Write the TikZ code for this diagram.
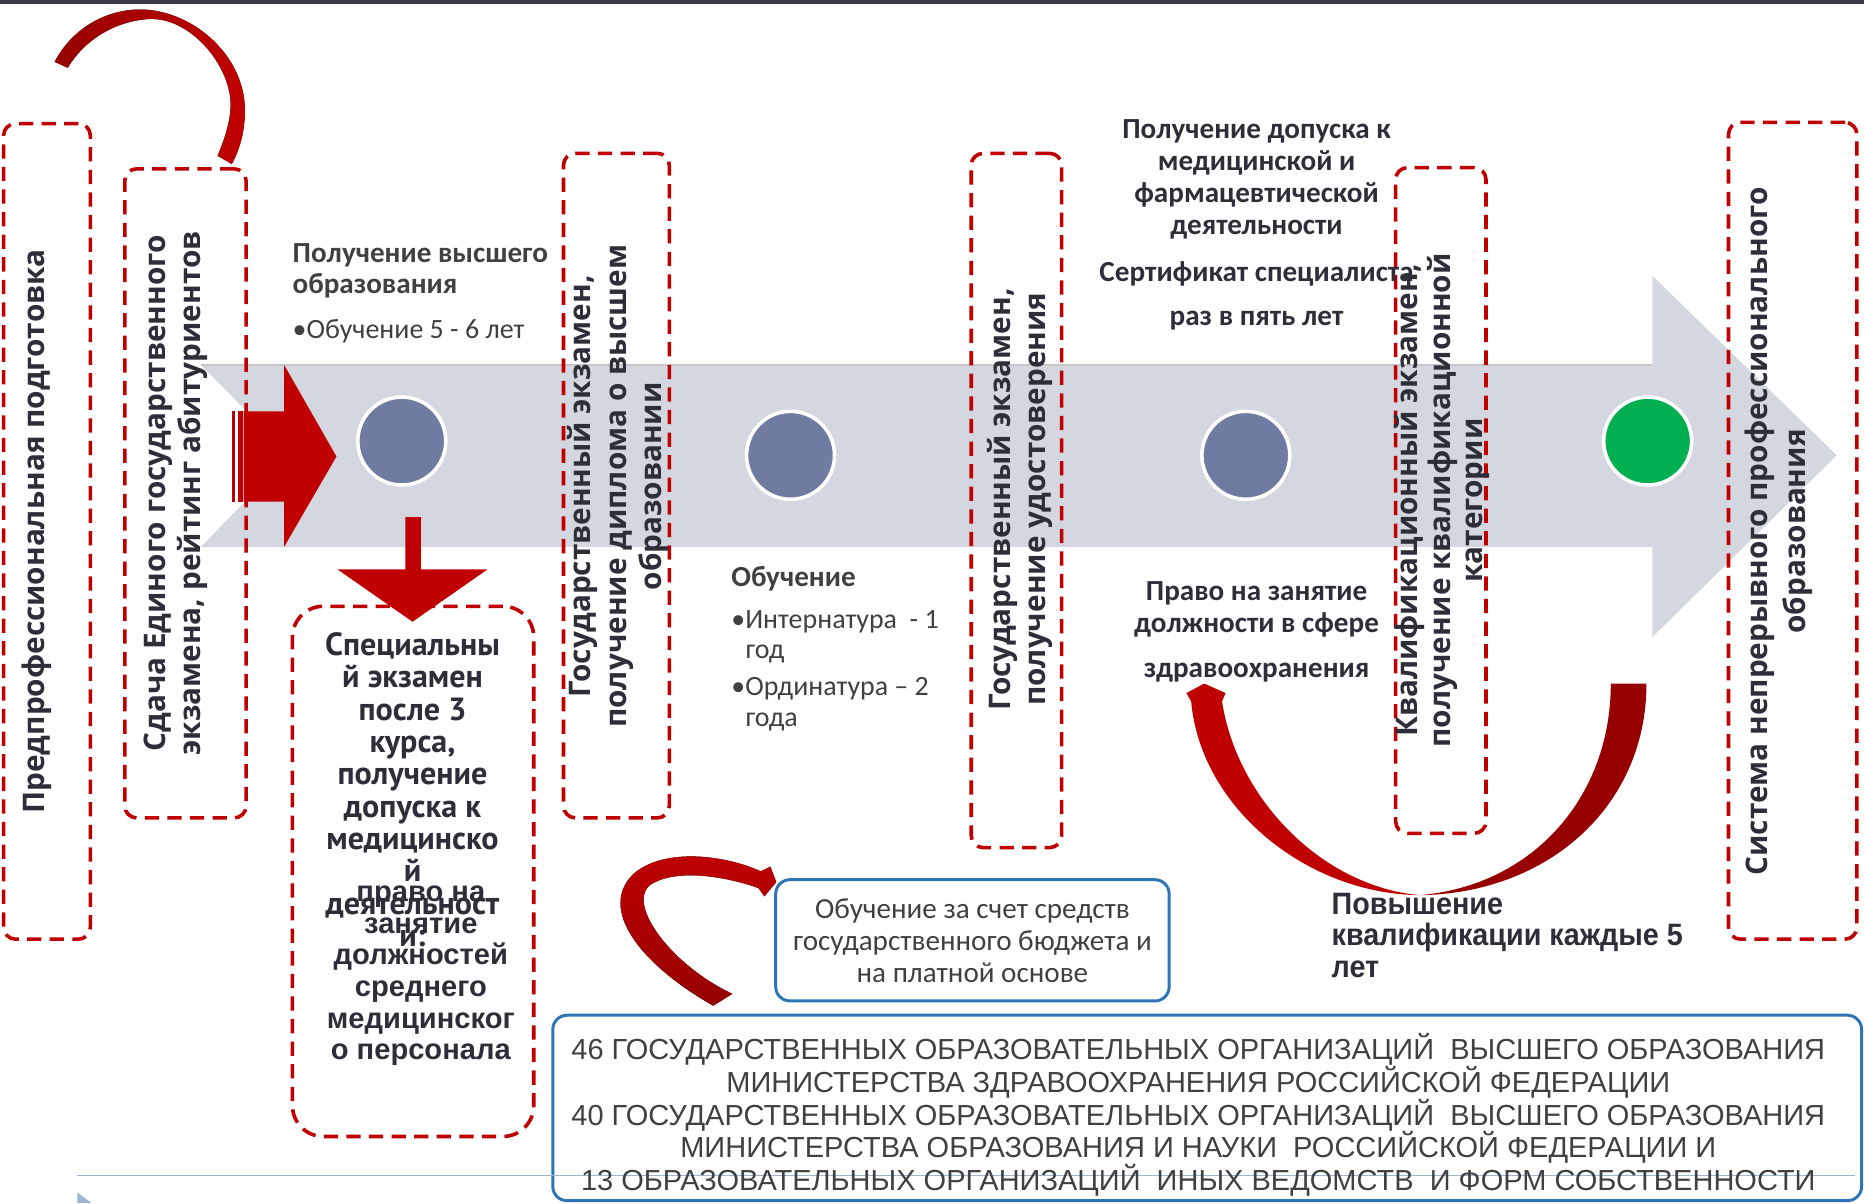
\documentclass[tikz,border=0pt]{standalone}
\usepackage{fontspec}
\setmainfont{Carlito}
\newfontfamily\gillfont{PT Sans}
\newfontfamily\vertfont{Open Sans}
\newfontfamily\arialfont{Liberation Sans}
\newfontfamily\narrowfont[FakeStretch=0.93]{Liberation Sans}
\usetikzlibrary{positioning}

\definecolor{boxred}{HTML}{C00000}
\definecolor{ribbondark}{HTML}{960000}
\definecolor{arrowgrey}{HTML}{D4D7E0}
\definecolor{dotblue}{HTML}{6F7BA1}
\definecolor{dotgreen}{HTML}{00B050}
\definecolor{frameblue}{HTML}{2E75B6}
\definecolor{inkgrey}{HTML}{2E2E38}
\definecolor{softgrey}{HTML}{404040}
\definecolor{topbar}{HTML}{3A3B45}
\definecolor{rulegrey}{HTML}{9DB6CD}

\begin{document}
\begin{tikzpicture}
    [x=1pt, y=-1pt,
    stagebox/.style ={draw=boxred, line width=3pt, dash pattern=on 12pt off 7pt,
        rounded corners=10pt, inner sep=0pt},
    vlabel/.style ={rotate=90, align=center, inner sep=0pt, text=inkgrey,
        font=\vertfont\bfseries\fontsize{25}{30}\selectfont},
    dot/.style ={circle, draw=white, line width=3pt, fill=dotblue,
        minimum size=74pt, inner sep=0pt},
    infobox/.style ={draw=frameblue, line width=2.5pt, rounded corners=12pt, inner sep=0pt},
    note/.style ={align=center, inner sep=0pt, text=inkgrey,
        font=\bfseries\fontsize{24.5}{27}\selectfont}
    ]
    \useasboundingbox (0,0) rectangle (1568,1012);
    \fill[topbar] (0,0) rectangle (1568,3.5);

    % timeline arrow
    \fill[arrowgrey] (169,307) -- (1390,307) -- (1390,232) -- (1545,383) -- (1390,536)
        -- (1390,460) -- (169,460) -- (244,383) -- cycle;
    \draw[black!22, line width=1pt] (169,307) -- (1390,307);

    \node[dot] (dota) at (338,371) {};
    \node[dot] (dotb) at (665,383) {};
    \node[dot] (dotc) at (1048,383) {};
    \node[dot, fill=dotgreen] (dotd) at (1386,371) {};

    % red arrows
    \fill[boxred] (195,346) rectangle (197.5,422);
    \fill[boxred] (200,346) rectangle (204,422);
    \fill[boxred] (205,346) -- (239,346) -- (239,307) -- (283,384) -- (239,460)
        -- (239,422) -- (205,422) -- cycle;
    \fill[boxred] (341,435) -- (354,435) -- (354,479) -- (410,479) -- (347,523)
        -- (284,479) -- (341,479) -- cycle;

    % stages
    \node[stagebox, minimum width=73pt, minimum height=686pt] (prep) at (39.5,447) {};
    \node[stagebox, minimum width=102pt, minimum height=546pt] (ege) at (156,415) {};
    \node[stagebox, minimum width=203pt, minimum height=446pt, rounded corners=26pt] (special) at (347.5,733) {};
    \node[stagebox, minimum width=89pt, minimum height=559pt] (diploma) at (518.5,408.5) {};
    \node[stagebox, minimum width=76pt, minimum height=584pt] (licence) at (855,421) {};
    \node[stagebox, minimum width=76pt, minimum height=560pt] (category) at (1212,421) {};
    \node[stagebox, minimum width=108pt, minimum height=687pt] (lifelong) at (1508,446.5) {};

    \node[vlabel] (preptext) at (31,447) {Предпрофессиональная подготовка};
    \node[vlabel] (egetext) at (148,415) {Сдача Единого государственного\\экзамена, рейтинг абитуриентов};
    \node[vlabel] (diplomatext) at (520,409) {Государственный экзамен,\\получение диплома о высшем\\образовании};
    \node[vlabel] (licencetext) at (858,420) {Государственный экзамен,\\получение удостоверения};
    \node[vlabel, font=\vertfont\bfseries\fontsize{25}{27.5}\selectfont] (categorytext) at (1213,421)
        {Квалификационный экзамен,\\получение квалификационной\\категории};
    \node[vlabel, font=\vertfont\bfseries\fontsize{25}{32}\selectfont] (lifelongtext) at (1496,447)
        {Система непрерывного профессионального\\образования};

    \node[anchor=north, align=center, inner sep=0pt, text=inkgrey,
        font=\gillfont\bfseries\fontsize{27}{27.2}\selectfont] (specialtext) at (347,532)
        {Специальны\\й экзамен\\после 3\\курса,\\получение\\допуска к\\медицинско\\й\\деятельност\\и:};
    \node[anchor=north, align=center, inner sep=0pt, text=inkgrey,
        font=\arialfont\bfseries\fontsize{24.5}{26.6}\selectfont] (nursetext) at (354,745)
        {право на\\занятие\\должностей\\среднего\\медицинског\\о персонала};

    % captions
    \node[anchor=north west, align=left, inner sep=0pt, text=softgrey,
        font=\bfseries\fontsize{24.5}{26}\selectfont] (higher) at (246,205) {Получение высшего\\образования};
    \node[anchor=west, inner sep=0pt, text=softgrey, font=\fontsize{23.5}{26}\selectfont]
        (fiveyears) at (246,279) {•Обучение 5 - 6 лет};
    \node[anchor=west, inner sep=0pt, text=softgrey, font=\bfseries\fontsize{24.5}{26}\selectfont]
        (training) at (615,487) {Обучение};
    \node[anchor=north west, align=left, inner sep=0pt, text=softgrey,
        font=\fontsize{23.5}{26}\selectfont] (trainlist) at (615,513)
        {•Интернатура~~- 1\\\hspace*{12pt}год\\[5pt]•Ординатура – 2\\\hspace*{12pt}года};
    \node[note, anchor=north] (admission) at (1057,100)
        {Получение допуска к\\медицинской и\\фармацевтической\\деятельности};
    \node[note, anchor=north, font=\bfseries\fontsize{24.5}{37}\selectfont] (certificate) at (1057,220)
        {Сертификат специалиста\\раз в пять лет};
    \node[note, anchor=north] (position) at (1057,489)
        {Право на занятие\\должности в сфере\\[11pt]здравоохранения};
    \node[anchor=north west, align=left, inner sep=0pt, text=inkgrey,
        font=\narrowfont\bfseries\fontsize{26}{26.5}\selectfont] (upgrade) at (1120,751)
        {Повышение\\квалификации каждые 5\\лет};

    % ribbons
    \fill[left color=ribbondark, right color=boxred]
        (46,52) .. controls (60,25) and (88,8) .. (118,8)
        .. controls (160,8) and (206,45) .. (206,93)
        .. controls (206,110) and (202,125) .. (195,138) -- (183,131)
        .. controls (190,115) and (194,100) .. (194,88)
        .. controls (194,55) and (160,14) .. (125,16)
        .. controls (95,18) and (70,35) .. (57,57) -- cycle;
    \fill[boxred] (1013,575) -- (1031,583) -- (1028,590)
        .. controls (1040,670) and (1110,745) .. (1194,753)
        .. controls (1100,752) and (1010,680) .. (1002,590) -- (998,583) -- cycle;
    \fill[ribbondark] (1194,753) .. controls (1300,752) and (1385,680) .. (1385,575)
        -- (1355,575) .. controls (1355,670) and (1290,745) .. (1194,753) -- cycle;
    \fill[top color=boxred, bottom color=ribbondark]
        (600,846) .. controls (540,812) and (502,765) .. (533,735)
        .. controls (560,712) and (612,720) .. (640,733) -- (648,729) -- (653,742)
        -- (643,754) -- (638,747) .. controls (610,737) and (567,730) .. (546,745)
        .. controls (528,762) and (565,812) .. (616,836) -- cycle;

    % funding boxes
    \node[infobox, minimum width=331pt, minimum height=102pt, align=center, text=softgrey,
        font=\fontsize{24.5}{27}\selectfont] (budget) at (818,791)
        {Обучение за счет средств\\государственного бюджета и\\на платной основе};
    \node[infobox, minimum width=1101pt, minimum height=156pt] (ministries) at (1015.5,932) {};
    \draw[rulegrey, line width=1.2pt] (65,989) -- (1560,989);
    \fill[rulegrey] (65,1003) -- (77,1012) -- (65,1012) -- cycle;
    \node[align=center, inner sep=0pt, text=softgrey,
        font=\arialfont\fontsize{24.4}{27.5}\selectfont] (ministrytext) at (1008,938)
        {46 ГОСУДАРСТВЕННЫХ ОБРАЗОВАТЕЛЬНЫХ ОРГАНИЗАЦИЙ~ ВЫСШЕГО ОБРАЗОВАНИЯ\\
        МИНИСТЕРСТВА ЗДРАВООХРАНЕНИЯ РОССИЙСКОЙ ФЕДЕРАЦИИ\\
        40 ГОСУДАРСТВЕННЫХ ОБРАЗОВАТЕЛЬНЫХ ОРГАНИЗАЦИЙ~ ВЫСШЕГО ОБРАЗОВАНИЯ\\
        МИНИСТЕРСТВА ОБРАЗОВАНИЯ И НАУКИ~ РОССИЙСКОЙ ФЕДЕРАЦИИ И\\
        13 ОБРАЗОВАТЕЛЬНЫХ ОРГАНИЗАЦИЙ~ ИНЫХ ВЕДОМСТВ~ И ФОРМ СОБСТВЕННОСТИ};
\end{tikzpicture}
\end{document}
